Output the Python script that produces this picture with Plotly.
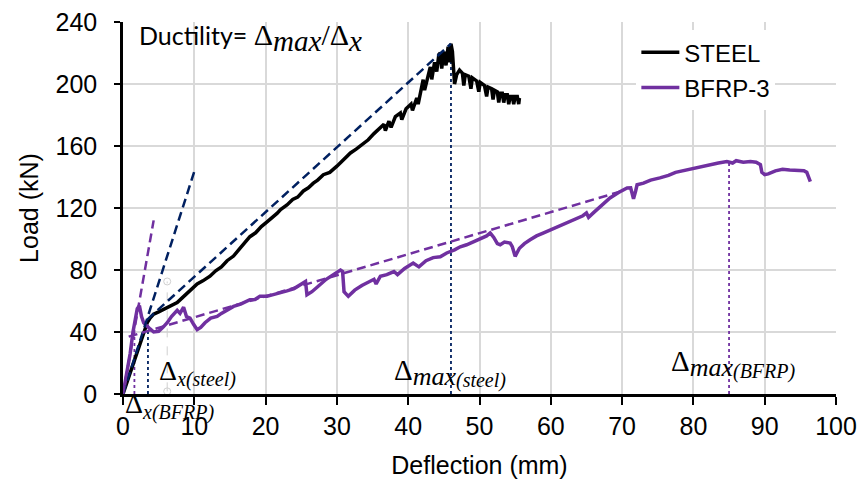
import plotly.graph_objects as go

# ---------------- data ----------------
steel_x = [0, 0.6, 1.2, 1.8, 2.4, 3.0, 3.4, 3.8, 4.3, 5.0, 5.6, 6.2, 7.0, 7.6, 8.3, 9.0, 9.6,
           10.4, 11.2, 12.2, 13.0, 13.8, 14.6, 15.5, 16.4, 17.2, 17.8, 18.6, 19.4, 20.2, 21.0,
           21.6, 22.1, 23.0, 23.8, 24.5, 25.3, 26.0, 26.7, 27.3, 28.1, 29.0, 30.0, 30.9, 31.9,
           32.7, 33.5, 34.4, 35.2, 36.1, 36.6, 36.8, 37.3, 37.6, 38.2, 38.9, 39.1, 39.7, 40.4,
           40.6, 41.2, 41.4, 41.8, 42.1, 42.3, 42.8, 43.1, 43.3, 43.7, 44.0, 44.3, 44.5, 44.7,
           45.0, 45.3, 45.6, 45.8, 46.0, 46.2, 46.5, 46.8, 47.2, 47.6, 47.8, 48.0, 48.5, 48.8,
           49.0, 49.6, 49.9, 50.1, 50.7, 51.0, 51.2, 51.7, 51.9, 52.1, 52.5, 52.7, 52.9, 53.2,
           53.4, 53.6, 53.9, 54.1, 54.3, 54.6, 54.8, 55.0, 55.3, 55.5, 55.6]
steel_y = [0, 8, 17, 25, 33, 41, 46, 49, 51.5, 53, 54.5, 56, 57.5, 59, 62, 65, 68,
           71, 73, 76, 79.5, 82, 86, 89, 94, 98, 101.5, 104, 108, 111, 114,
           116.5, 119, 122, 125.5, 127, 131, 133, 136, 138, 141.5, 143, 147, 151, 155.5,
           158, 161, 164, 168, 171.6, 174, 170, 176, 172, 179, 181.3, 177, 184, 187,
           183, 191, 187, 196, 202.8, 196, 206, 211, 203, 214, 208, 219, 220, 210,
           221, 212, 224, 214, 226, 221, 200, 206, 209, 207, 199, 206, 205, 197,
           204, 202, 195, 201, 199, 192, 198, 197, 190, 196, 195, 188, 194, 194,
           188, 193, 193, 187, 192, 192, 187, 192, 192, 187, 191]

bfrp_x = [0, 0.5, 1.0, 1.4, 1.7, 2.0, 2.3, 2.6, 2.9, 3.3, 3.8, 4.3, 5.0, 5.6, 6.2, 6.8, 7.2,
          7.6, 8.0, 8.5, 8.9, 9.4, 9.9, 10.4, 10.9, 11.5, 12.3, 13.2, 13.8, 14.5, 15.5, 16.5,
          17.8, 18.5, 19.2, 20.2, 21.0, 22.1, 23.0, 24.0, 24.9, 25.6, 25.8, 26.5, 27.5, 28.5,
          29.5, 30.5, 30.8, 31.0, 31.6, 32.5, 33.5, 34.5, 35.2, 35.5, 36.1, 37.0, 38.0, 38.5,
          39.5, 40.7, 41.5, 42.5, 43.5, 44.5, 45.4, 46.5, 47.3, 48.2, 49.0, 50.0, 51.0, 51.5,
          52.0, 52.5, 52.9, 53.5, 54.3, 54.6, 55.0, 55.6, 56.3, 57.1, 58.0, 59.0, 60.0, 61.3,
          62.5, 63.5, 64.5, 65.0, 65.3, 66.0, 67.0, 68.3, 69.5, 70.7, 71.2, 71.6, 71.9, 72.1,
          73.0, 74.0, 75.3, 76.5, 77.5, 78.5, 80.0, 81.0, 82.0, 83.5, 84.7, 85.5, 86.0, 87.0,
          88.0, 88.8, 89.4, 89.6, 90.0, 90.5, 91.5, 92.5, 93.5, 94.5, 95.5, 95.9, 96.2, 96.4]
bfrp_y = [0, 12, 26, 40, 48, 55, 57, 50, 46, 44, 42, 40, 40.5, 43, 46, 50, 52,
          54, 52, 56, 50, 49, 45, 41.5, 43, 46, 49, 50, 52, 54, 56.5, 58,
          60.8, 61, 63, 63, 64, 65, 66.5, 68, 70.5, 72.6, 64, 66, 70, 74,
          77, 80, 79, 66, 63, 67, 70, 72, 74, 71, 76, 77, 79, 77,
          81, 84.5, 82, 86, 88, 88.5, 91, 93, 95, 96.3, 98, 100, 102, 103.9,
          101, 97, 96.3, 98, 97.4, 95, 88.8, 94, 97, 99.5, 102, 104, 106, 109.2,
          111, 113, 115, 116.8, 114, 117, 121, 126.5, 130, 132.9, 133, 126, 131, 135,
          136, 138, 139.4, 141, 143, 144, 145.8, 147, 148, 149, 150, 149, 150.5, 149.5,
          150, 149.5, 148, 143, 141.5, 142, 144, 145, 144.5, 144, 144, 143, 140, 137]

# construction lines
steel_init_x, steel_init_y = [0, 10.1], [0, 145]
steel_sec_x, steel_sec_y = [3.4, 46.0], [48, 226]
steel_dx_x, steel_dx_y = [3.5, 3.5], [0, 48]
steel_dmax_x, steel_dmax_y = [46.0, 46.0], [0, 226]
bfrp_init_x, bfrp_init_y = [0, 4.3], [0, 112]
bfrp_sec_x, bfrp_sec_y = [0.8, 69.7], [37, 130.5]
bfrp_dx_x, bfrp_dx_y = [1.6, 1.6], [0, 40]
bfrp_dmax_x, bfrp_dmax_y = [85.0, 85.0], [0, 150]
handle_x, handle_y = [6.2, 6.2], [1.7, 72.6]

x_ticks = [0, 10, 20, 30, 40, 50, 60, 70, 80, 90, 100]
y_ticks = [0, 40, 80, 120, 160, 200, 240]

NAVY = "#002060"
PURPLE = "#7030A0"
SERIF = "Liberation Serif"
SANS = "Liberation Sans"
DASH = "9px,5px"

fig = go.Figure()

def add_line(x, y, color, dash, width):
    fig.add_trace(go.Scatter(x=x, y=y, mode="lines", showlegend=False, hoverinfo="skip",
                             line=dict(color=color, dash=dash, width=width)))

add_line(handle_x, handle_y, "#d0d0d0", "dash", 1)
fig.add_trace(go.Scatter(x=handle_x, y=handle_y, mode="markers", showlegend=False, hoverinfo="skip",
                         marker=dict(size=7, color="rgba(0,0,0,0)", line=dict(color="#d0d0d0", width=1))))
add_line(steel_dx_x, steel_dx_y, NAVY, "dot", 1.8)
add_line(steel_dmax_x, steel_dmax_y, NAVY, "dot", 1.8)
add_line(bfrp_dx_x, bfrp_dx_y, PURPLE, "dot", 1.8)
add_line(bfrp_dmax_x, bfrp_dmax_y, PURPLE, "dot", 1.8)

fig.add_trace(go.Scatter(x=steel_x, y=steel_y, mode="lines", name="STEEL", legendgroup="a",
                         line=dict(color="black", width=3.5)))
fig.add_trace(go.Scatter(x=bfrp_x, y=bfrp_y, mode="lines", name="BFRP-3", legendgroup="b",
                         line=dict(color=PURPLE, width=3.5)))

add_line(steel_init_x, steel_init_y, NAVY, DASH, 2.5)
add_line(steel_sec_x, steel_sec_y, NAVY, DASH, 2.5)
add_line(bfrp_init_x, bfrp_init_y, PURPLE, DASH, 2.5)
add_line(bfrp_sec_x, bfrp_sec_y, PURPLE, DASH, 2.5)

# ---------------- text ----------------
def sp(s, size, italic=False, shift=0, family=SERIF):
    inner = f"<i>{s}</i>" if italic else s
    extra = f";baseline-shift:{shift}px" if shift else ""
    return f"<span style='font-family:{family};font-size:{size}px{extra}'>{inner}</span>"

def label(x, y, text, size, family=SERIF):
    # x in data units (mm), y in kN converted to a fraction of the 0..240 axis (paper)
    fig.add_annotation(x=x, y=y / 240.0, xref="x", yref="paper", text=text, showarrow=False,
                       xanchor="left", yanchor="middle",
                       font=dict(family=family, size=size, color="black"))

# Ductility = Δmax/Δx
label(1.9, 230.0,
      "Ductility= " + sp("Δ", 30) + sp("max", 29, True, -6)
      + sp("/Δ", 30) + sp("x", 29, True, -6),
      25, family="Lato")

# Δx(steel)
label(4.8, 13.5, sp("Δ", 28) + sp("x(steel)", 20, True, -6), 28)
# Δx(BFRP)
label(0.0, -8.0, sp("Δ", 28) + sp("x(BFRP)", 20, True, -6), 28)
# Δmax(steel)
label(37.7, 13.5, sp("Δ", 29) + sp("max", 26, True, -5) + sp("(steel)", 20, True, -7), 29)
# Δmax(BFRP)
label(76.6, 19.5, sp("Δ", 29) + sp("max", 26, True, -5) + sp("(BFRP)", 20, True, -7), 29)

fig.update_layout(
    width=860, height=481,
    margin=dict(l=123, r=24, t=22, b=87),
    paper_bgcolor="white", plot_bgcolor="white",
    font=dict(family=SANS, size=24, color="black"),
    legend=dict(x=0.72, y=0.978, xanchor="left", yanchor="top", bgcolor="white",
                font=dict(family=SANS, size=24, color="black"),
                traceorder="grouped", tracegroupgap=1, itemwidth=38),
)
fig.update_xaxes(range=[0, 100], tickvals=x_ticks, ticktext=[str(v) for v in x_ticks],
                 automargin=False,
                 showgrid=True, gridcolor="#d9d9d9", gridwidth=1.5,
                 showline=True, linecolor="black", linewidth=2.5, zeroline=False,
                 ticks="outside", ticklen=8, tickwidth=2, tickcolor="black",
                 tickfont=dict(family=SANS, size=25),
                 title=dict(text="Deflection (mm)", font=dict(family=SANS, size=25), standoff=18))
fig.update_yaxes(range=[0, 240], tickvals=y_ticks, ticktext=[str(v) for v in y_ticks],
                 automargin=False,
                 showgrid=True, gridcolor="#d9d9d9", gridwidth=1.5,
                 showline=True, linecolor="black", linewidth=2.5, zeroline=False,
                 ticks="outside", ticklen=6, tickwidth=2, tickcolor="black",
                 ticklabelstandoff=12,
                 tickfont=dict(family=SANS, size=25),
                 title=dict(text="Load (kN)", font=dict(family=SANS, size=25), standoff=10))

fig.write_html("out.html", config={"displayModeBar": False},
               post_script="document.body.style.margin='0';")
